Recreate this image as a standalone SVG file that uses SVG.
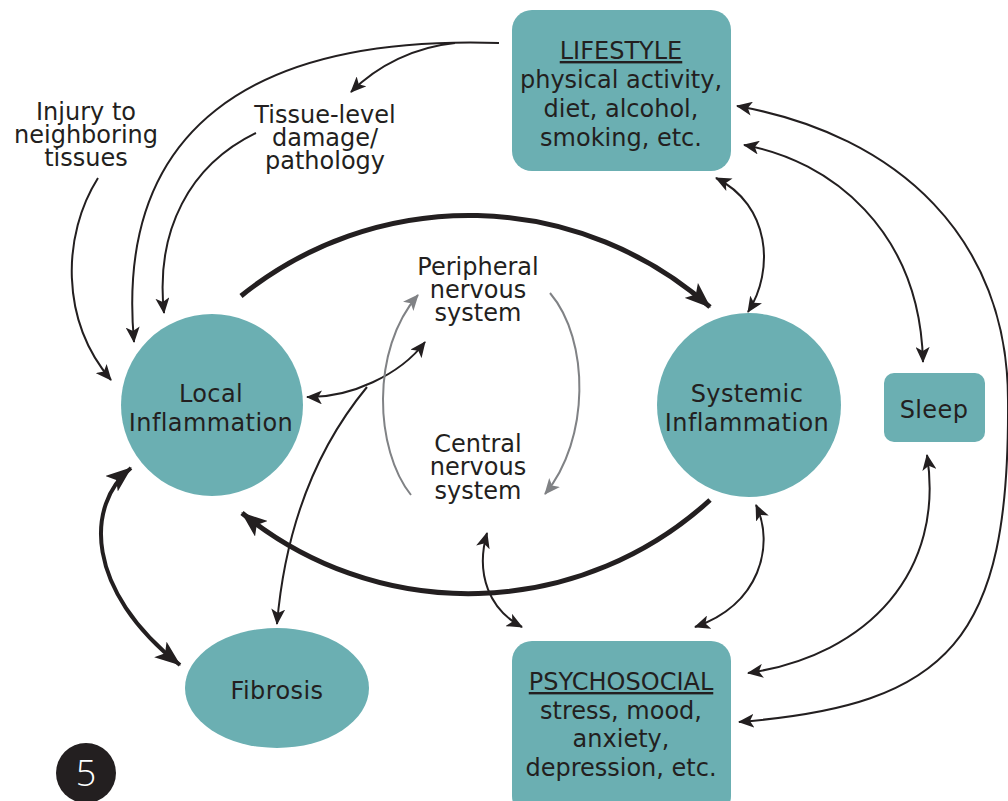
<svg xmlns="http://www.w3.org/2000/svg" width="1008" height="801" viewBox="0 0 1008 801">
<style>
.node{fill:#6BAFB2;}
.t{font-family:"DejaVu Sans","Liberation Sans",sans-serif;font-size:24px;fill:#231F20;text-anchor:middle;}
.w{letter-spacing:0.4px;}
.c{fill:none;stroke:#231F20;stroke-width:2;}
.ck{fill:none;stroke:#231F20;stroke-width:5;}
.cm{fill:none;stroke:#231F20;stroke-width:4;}
.g{fill:none;stroke:#808285;stroke-width:2;}
</style>
<defs>
<marker id="a" viewBox="0 0 16 14" refX="15" refY="7" markerWidth="16" markerHeight="14" markerUnits="userSpaceOnUse" orient="auto-start-reverse">
<path d="M0,0 L16,7 L0,14 L4,7 z" fill="#231F20"/>
</marker>
<marker id="ag" viewBox="0 0 16 14" refX="15" refY="7" markerWidth="16" markerHeight="14" markerUnits="userSpaceOnUse" orient="auto-start-reverse">
<path d="M0,0 L16,7 L0,14 L4,7 z" fill="#808285"/>
</marker>
<marker id="ak" viewBox="0 0 26 20" refX="25" refY="10" markerWidth="26" markerHeight="20" markerUnits="userSpaceOnUse" orient="auto-start-reverse">
<path d="M0,0 L26,10 L0,20 L6,10 z" fill="#231F20"/>
</marker>
</defs>
<g id="connectors">
<path class="ck" d="M241,296 A363,363 0 0 1 710,307" marker-end="url(#ak)"/>
<path class="ck" d="M710,500 A358,358 0 0 1 242,513" marker-end="url(#ak)"/>
<path class="cm" d="M131,468 C85,505 85,590 180,665" marker-start="url(#ak)" marker-end="url(#ak)"/>
<path class="c" d="M499,43 C250,35 115,130 134,342" marker-end="url(#a)"/>
<path class="c" d="M455,43 C415,47 378,65 351,92" marker-end="url(#a)"/>
<path class="c" d="M256,133 C190,165 155,230 164,313" marker-end="url(#a)"/>
<path class="c" d="M98,178 C62,235 60,320 111,380" marker-end="url(#a)"/>
<path class="c" d="M716,178 C770,205 775,270 748,312" marker-start="url(#a)" marker-end="url(#a)"/>
<path class="c" d="M744,145 C830,160 920,230 923,362" marker-start="url(#a)" marker-end="url(#a)"/>
<path class="c" d="M737,106 C900,135 1008,240 1008,400 C1010,640 950,705 739,722" marker-start="url(#a)" marker-end="url(#a)"/>
<path class="c" d="M927,455 C945,570 870,655 748,673" marker-start="url(#a)" marker-end="url(#a)"/>
<path class="c" d="M756,505 C775,545 760,605 695,627" marker-start="url(#a)" marker-end="url(#a)"/>
<path class="c" d="M487,533 C475,575 490,610 522,627" marker-start="url(#a)" marker-end="url(#a)"/>
<path class="c" d="M307,397 C350,398 400,375 425,342" marker-start="url(#a)" marker-end="url(#a)"/>
<path class="c" d="M367,387 C315,450 285,530 277,624" marker-end="url(#a)"/>
<path class="g" d="M411,495 C375,450 370,350 418,295" marker-end="url(#ag)"/>
<path class="g" d="M550,293 C590,340 590,440 545,494" marker-end="url(#ag)"/>
</g>
<g id="lifestyle">
<rect class="node" x="512" y="10" width="219" height="161" rx="20"/>
<text class="t" x="621" y="59"><tspan text-decoration="underline">LIFESTYLE</tspan><tspan x="621" dy="29">physical activity,</tspan><tspan x="621" dy="29">diet, alcohol,</tspan><tspan x="621" dy="29">smoking, etc.</tspan></text>
</g>
<g id="local">
<circle class="node" cx="212" cy="405" r="91"/>
<text class="t w" x="211" y="402">Local<tspan x="211" dy="29">Inflammation</tspan></text>
</g>
<g id="systemic">
<circle class="node" cx="749" cy="405" r="92"/>
<text class="t w" x="747" y="402">Systemic<tspan x="747" dy="29">Inflammation</tspan></text>
</g>
<g id="sleep">
<rect class="node" x="884" y="373" width="101" height="69" rx="10"/>
<text class="t w" x="934" y="418">Sleep</text>
</g>
<g id="fibrosis">
<ellipse class="node" cx="277" cy="688" rx="92" ry="60"/>
<text class="t w" x="277" y="699">Fibrosis</text>
</g>
<g id="psychosocial">
<rect class="node" x="512" y="641" width="219" height="175" rx="20"/>
<text class="t" x="621" y="690"><tspan text-decoration="underline">PSYCHOSOCIAL</tspan><tspan x="621" dy="29">stress, mood,</tspan><tspan x="621" dy="28">anxiety,</tspan><tspan x="621" dy="29">depression, etc.</tspan></text>
</g>
<g id="injury">
<text class="t" x="86" y="120">Injury to<tspan x="86" dy="23">neighboring</tspan><tspan x="86" dy="23">tissues</tspan></text>
</g>
<g id="tissue">
<text class="t" x="325" y="123">Tissue-level<tspan x="325" dy="23">damage/</tspan><tspan x="325" dy="23">pathology</tspan></text>
</g>
<g id="pns">
<text class="t" x="478" y="275">Peripheral<tspan x="478" dy="23">nervous</tspan><tspan x="478" dy="23">system</tspan></text>
</g>
<g id="cns">
<text class="t" x="478" y="452">Central<tspan x="478" dy="23">nervous</tspan><tspan x="478" dy="24">system</tspan></text>
</g>
<g id="badge">
<circle cx="86" cy="773" r="30" fill="#231F20"/>
<text x="86" y="786" font-family="'Open Sans','DejaVu Sans',sans-serif" font-weight="300" font-size="36" fill="#ffffff" text-anchor="middle">5</text>
</g>
</svg>
